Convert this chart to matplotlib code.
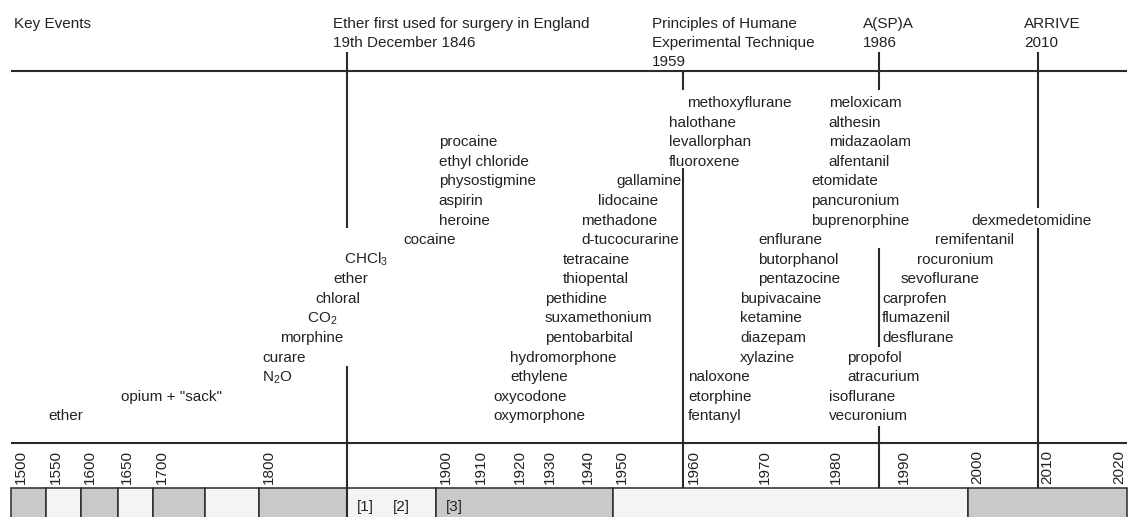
import numpy as np
import matplotlib
matplotlib.use("Agg")
import matplotlib.pyplot as plt

plt.rcParams['font.family'] = ['Liberation Sans', 'DejaVu Sans']
plt.rcParams['mathtext.fontset'] = 'custom'
plt.rcParams['mathtext.rm'] = 'Liberation Sans'
plt.rcParams['mathtext.it'] = 'Liberation Sans:italic'
plt.rcParams['mathtext.default'] = 'regular'

# ---------------- data ----------------
tick_years = [1500, 1550, 1600, 1650, 1700, 1800, 1900, 1910, 1920, 1930, 1940,
              1950, 1960, 1970, 1980, 1990, 2000, 2010, 2020]

event_years = [1846, 1959, 1986, 2010]
event_texts = [["Ether first used for surgery in England", "19th December 1846"],
               ["Principles of Humane", "Experimental Technique", "1959"],
               ["A(SP)A", "1986"],
               ["ARRIVE", "2010"]]
event_text_years = [1838.7, 1955.0, 1984.2, 2008.1]

period_edges = [1500, 1550, 1600, 1650, 1700, 1750, 1800, 1846, 1900, 1950, 2000, 2022.4]
period_notes = ["[1]", "[2]", "[3]"]
period_note_years = [1852.1, 1873.9, 1902.8]

drug_names = ["ether", 'opium + "sack"', "N$_2$O", "curare", "morphine", "CO$_2$",
              "chloral", "ether", "CHCl$_3$", "cocaine",
              "procaine", "ethyl chloride", "physostigmine", "aspirin", "heroine",
              "oxycodone", "oxymorphone", "hydromorphone", "ethylene",
              "pethidine", "suxamethonium", "pentobarbital", "tetracaine", "thiopental",
              "methadone", "d-tucocurarine", "lidocaine", "gallamine",
              "halothane", "levallorphan", "fluoroxene", "methoxyflurane",
              "naloxone", "etorphine", "fentanyl",
              "bupivacaine", "ketamine", "diazepam", "xylazine",
              "enflurane", "butorphanol", "pentazocine",
              "etomidate", "pancuronium", "buprenorphine",
              "meloxicam", "althesin", "midazaolam", "alfentanil",
              "isoflurane", "vecuronium", "propofol", "atracurium",
              "carprofen", "flumazenil", "desflurane",
              "sevoflurane", "rocuronium", "remifentanil", "dexmedetomidine"]
drug_years = [1552.9, 1654.8, 1801.6, 1801.6, 1811.0, 1825.1,
              1829.3, 1838.7, 1844.4, 1880.0,
              1900.8, 1900.8, 1900.8, 1900.8, 1900.8,
              1915.5, 1915.5, 1919.9, 1919.9,
              1931.2, 1931.2, 1931.2, 1935.9, 1935.9,
              1940.7, 1940.7, 1945.7, 1950.5,
              1957.2, 1957.2, 1957.2, 1960.4,
              1960.5, 1960.5, 1960.5,
              1967.8, 1967.8, 1967.8, 1967.8,
              1970.4, 1970.4, 1970.4,
              1977.9, 1977.9, 1977.9,
              1980.3, 1980.3, 1980.3, 1980.3,
              1980.3, 1980.3, 1982.4, 1982.4,
              1986.8, 1986.8, 1986.8,
              1990.8, 1993.1, 1995.5, 2000.5]
drug_rows = [16, 15, 14, 13, 12, 11,
             10, 9, 8, 7,
             2, 3, 4, 5, 6,
             15, 16, 13, 14,
             10, 11, 12, 8, 9,
             6, 7, 5, 4,
             1, 2, 3, 0,
             14, 15, 16,
             10, 11, 12, 13,
             7, 8, 9,
             4, 5, 6,
             0, 1, 2, 3,
             15, 16, 13, 14,
             10, 11, 12,
             9, 8, 7, 6]

# ---------------- layout (non-linear timeline scale) ----------------
KNOT_YEARS = [1484.5, 1500, 1550, 1600, 1650, 1700, 1750, 1800, 1846, 1900, 1910,
              1920, 1930, 1940, 1950, 1959, 1960, 1970, 1980, 1986, 1990, 2000,
              2010, 2020, 2023.8]
KNOT_POS = [0, 11, 46, 80.6, 117.6, 152.8, 205, 259, 347, 436, 471.5,
            510.5, 540.5, 578.5, 612.7, 683, 684.5, 755.5, 826, 879, 894.5, 967.8,
            1037.5, 1110, 1137]


def fwd(x):
    return np.interp(x, KNOT_YEARS, KNOT_POS)


def inv(p):
    return np.interp(p, KNOT_POS, KNOT_YEARS)


HEADER_Y = 71
TICKLINE_Y = 443
BAR_TOP = 488
ROW0_BASE = 107.2
ROW_STEP = 19.57
event_segments = [[(52, 228), (366, 530)],
                  [(71, 90), (168, BAR_TOP)],
                  [(52, 90), (248, 347), (426, BAR_TOP)],
                  [(52, 208), (228, BAR_TOP)]]

INK = '#222222'
LINE = '#2a2a2a'
FS = 11

fig = plt.figure(figsize=(11.37, 5.17), dpi=100)
ax = fig.add_axes([0, 0, 1, 1])
ax.set_xscale('function', functions=(fwd, inv))
ax.set_xlim(1484.5, 2023.8)
ax.set_ylim(517, 0)
ax.axis('off')

x_end = period_edges[-1]

# header and tick lines
ax.hlines([HEADER_Y, TICKLINE_Y], tick_years[0], x_end, color=LINE, lw=1.5)

# header texts
ax.text(1504.3, 28, "Key Events", fontsize=FS, color=INK, ha='left', va='baseline')
for yr, lines in zip(event_text_years, event_texts):
    for i, s in enumerate(lines):
        ax.text(yr, 28 + 19 * i, s, fontsize=FS, color=INK, ha='left', va='baseline')

# event lines
for yr, segs in zip(event_years, event_segments):
    for y0, y1 in segs:
        ax.vlines(yr, y0, y1, color=LINE, lw=1.5)

# drug labels
for name, yr, r in zip(drug_names, drug_years, drug_rows):
    ax.text(yr, ROW0_BASE + ROW_STEP * r, name, fontsize=FS, color=INK,
            ha='left', va='baseline')

# tick labels
for yr in tick_years:
    ax.annotate(str(yr), (yr, 450), xytext=(1.8, 0), textcoords='offset points',
                rotation=90, ha='left', va='top', fontsize=FS, color=INK)

# period bar
lefts = period_edges[:-1]
widths = np.diff(period_edges)
colors = ['#c9c9c9' if i % 2 == 0 else '#f4f4f4' for i in range(len(lefts))]
ax.bar(lefts, [40] * len(lefts), width=widths, bottom=BAR_TOP, align='edge',
       color=colors, edgecolor=LINE, linewidth=1.1)
for s, yr in zip(period_notes, period_note_years):
    ax.text(yr, 507, s, fontsize=FS, color=INK, ha='left', va='center')

fig.savefig('out.png', dpi=100)
